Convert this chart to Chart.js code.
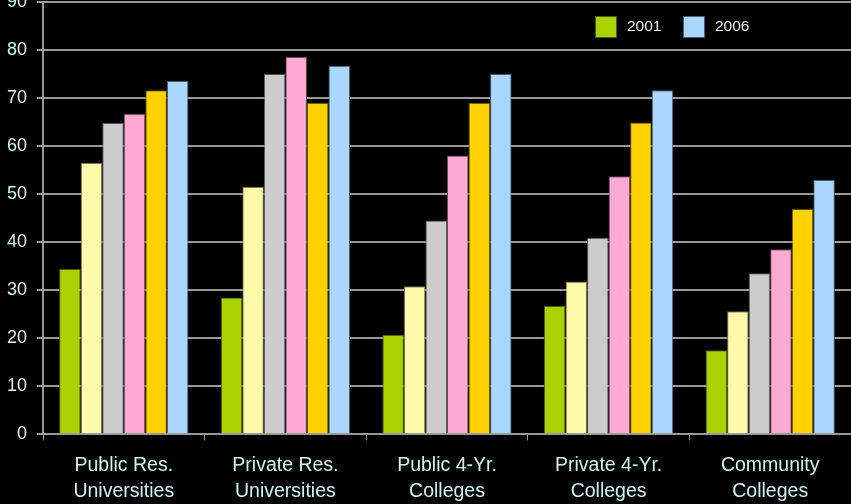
<!DOCTYPE html>
<html>
<head>
<meta charset="utf-8">
<script src="https://cdn.jsdelivr.net/npm/chart.js@4"></script>
<style>
  html, body { margin: 0; padding: 0; background: #000; overflow: hidden; }
  #wrap { position: absolute; left: 0; top: -19px; width: 851px; height: 536px; }
</style>
</head>
<body>
<div id="wrap"><canvas id="myChart"></canvas></div>
<script>

let categories = [['Public Res.', 'Universities'], ['Private Res.', 'Universities'], ['Public 4-Yr.', 'Colleges'], ['Private 4-Yr.', 'Colleges'], ['Community', 'Colleges']];
let years = ['2001', '2002', '2003', '2004', '2005', '2006'];

let v2001 = [34.4, 28.5, 20.7, 26.7, 17.5];
let v2002 = [56.5, 51.5, 30.8, 31.8, 25.6];
let v2003 = [64.8, 75.0, 44.5, 40.9, 33.5];
let v2004 = [66.7, 78.5, 58.0, 53.7, 38.5];
let v2005 = [71.6, 69.0, 69.0, 64.9, 46.9];
let v2006 = [73.5, 76.7, 75.0, 71.6, 52.9];

let yTicks = [0, 10, 20, 30, 40, 50, 60, 70, 80, 90];

let colors = ['#AAD200', '#FFFAAA', '#CCCCCC', '#FFAAD4', '#FFD200', '#AAD7FF'];
let borders = ['#4d5e00', '#6b6840', '#555555', '#6b4858', '#5e4d00', '#4a5e70'];
let values = [v2001, v2002, v2003, v2004, v2005, v2006];

let legendShown = [0, 5];

let tickColor = '#CCF5F5';

// legend drawn inside the plot, top right, only first and last year
const boxLegend = {
  id: 'boxLegend',
  afterDraw(chart) {
    const ctx = chart.ctx;
    let x = 595;
    const top = 35;
    ctx.save();
    ctx.font = '15.5px "Liberation Sans", Arial, sans-serif';
    ctx.textBaseline = 'middle';
    legendShown.forEach(i => {
      const ds = chart.data.datasets[i];
      ctx.fillStyle = ds.backgroundColor;
      ctx.fillRect(x, top, 22, 22);
      ctx.strokeStyle = ds.borderColor;
      ctx.lineWidth = 1;
      ctx.strokeRect(x + 0.5, top + 0.5, 21, 21);
      ctx.fillStyle = '#F2F2F2';
      ctx.fillText(ds.label, x + 32, top + 11);
      x += 88;
    });
    ctx.restore();
  }
};

let ctx1 = document.getElementById('myChart').getContext('2d');

let chart1 = new Chart(ctx1, {
  type: 'bar',
  data: {
    labels: categories,
    datasets: years.map((y, i) => ({
      label: y,
      data: values[i],
      backgroundColor: colors[i],
      borderColor: borders[i],
      borderWidth: 1,
      categoryPercentage: 0.8,
      barPercentage: 1.0
    }))
  },
  options: {
    responsive: true,
    maintainAspectRatio: false,
    animation: false,
    layout: { padding: 0 },
    plugins: {
      legend: { display: false },
      tooltip: { enabled: false }
    },
    scales: {
      x: {
        grid: { display: true, drawOnChartArea: false, drawTicks: true, tickLength: 6, offset: true, color: '#999999' },
        border: { color: '#999999', width: 2 },
        ticks: {
          color: tickColor,
          padding: 12,
          maxRotation: 0,
          font: { family: '"Liberation Sans", Arial, sans-serif', size: 19.5, lineHeight: 1.35 }
        }
      },
      y: {
        min: 0,
        max: 90,
        afterBuildTicks: axis => { axis.ticks = yTicks.map(v => ({ value: v })); },
        afterFit: axis => { axis.width = 43; },
        grid: { color: '#999999', lineWidth: 2, tickLength: 6 },
        border: { color: '#999999', width: 2 },
        ticks: {
          color: tickColor,
          padding: 10,
          font: { family: '"Liberation Sans", Arial, sans-serif', size: 18 }
        }
      }
    }
  },
  plugins: [boxLegend]
});
</script>
</body>
</html>
